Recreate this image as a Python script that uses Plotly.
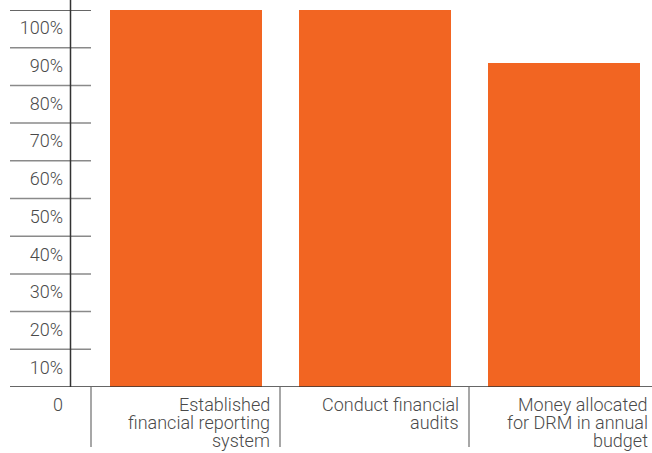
import plotly.graph_objects as go

# Data
categories = [
    ["Established", "financial reporting", "system"],
    ["Conduct financial", "audits"],
    ["Money allocated", "for DRM in annual", "budget"],
]
values = [100, 100, 86]
tick_values = [0, 10, 20, 30, 40, 50, 60, 70, 80, 90, 100]
tick_labels = ["0", "10%", "20%", "30%", "40%", "50%", "60%", "70%", "80%", "90%", "100%"]

# Geometry / style
W, H = 652, 453
ML, MR, MT, MB = 84, 0, 10, 66
PLOT_W = W - ML - MR
PLOT_H = H - MT - MB
CAT_PX = 189.0
BAR_COLOR = "#F26522"
TEXT_COLOR = "#4a4a4a"
GRID_COLOR = "#8a8a8a"
DARK_LINE = "#333333"
FONT = dict(family="Roboto", size=18, color=TEXT_COLOR, weight=300)

x0 = -0.5 - (91 - ML) / CAT_PX
x1 = x0 + PLOT_W / CAT_PX


def px_to_paper(p):
    return (p - ML) / PLOT_W


xs = list(range(len(values)))

fig = go.Figure()
fig.add_trace(go.Bar(
    x=xs, y=values, width=152 / CAT_PX,
    marker=dict(color=BAR_COLOR, line=dict(width=0)),
    hoverinfo="skip",
))

shapes = []
# short gridlines in the label column
for v in tick_values[1:]:
    shapes.append(dict(
        type="line", xref="paper", yref="y",
        x0=px_to_paper(10), x1=px_to_paper(91), y0=v, y1=v,
        line=dict(color=DARK_LINE if v == tick_values[-1] else GRID_COLOR, width=1.5),
        layer="below",
    ))
# baseline across the full width
shapes.append(dict(
    type="line", xref="paper", yref="y",
    x0=px_to_paper(10), x1=1, y0=0, y1=0,
    line=dict(color=DARK_LINE, width=1.5), layer="above",
))
# vertical axis rule
shapes.append(dict(
    type="line", xref="paper", yref="paper",
    x0=px_to_paper(70.5), x1=px_to_paper(70.5), y0=0, y1=1 + MT / PLOT_H,
    line=dict(color=DARK_LINE, width=1.5), layer="above",
))
# category separators below the baseline
for i in range(len(categories)):
    xb = i - 0.5
    if xb < x0 or xb > x1:
        continue
    shapes.append(dict(
        type="line", xref="x", yref="paper",
        x0=xb, x1=xb, y0=0, y1=-60 / PLOT_H,
        line=dict(color=GRID_COLOR, width=1.5),
    ))

annotations = []
LINE_STEP = 18
for i, lines in enumerate(categories):
    for k, line in enumerate(lines):
        annotations.append(dict(
            x=i + 0.458, xref="x", y=0, yref="paper",
            text=line, showarrow=False, xanchor="right", yanchor="middle",
            yshift=-(17.5 + k * LINE_STEP), font=FONT,
        ))

fig.update_layout(
    width=W, height=H,
    margin=dict(l=ML, r=MR, t=MT, b=MB, pad=0),
    paper_bgcolor="white", plot_bgcolor="white",
    showlegend=False,
    bargap=0,
    xaxis=dict(range=[x0, x1], showgrid=False, zeroline=False, showline=False,
               showticklabels=False, ticks=""),
    yaxis=dict(range=[0, 100], tickvals=tick_values, ticktext=tick_labels,
               showgrid=False, zeroline=False, showline=False, ticks="",
               tickfont=FONT, ticklabelshift=18, ticklabelstandoff=20),
    shapes=shapes,
    annotations=annotations,
)

fig.write_html("out.html")
